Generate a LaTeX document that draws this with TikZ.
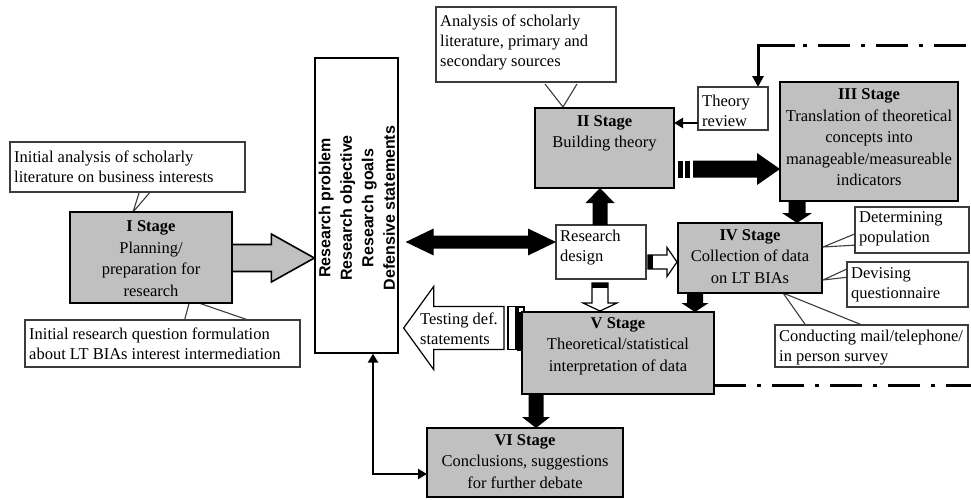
\documentclass[tikz,border=0pt]{standalone}
\usepackage{fontspec}
\setmainfont{Liberation Serif}
\newfontfamily\headsans{Liberation Sans}
\usetikzlibrary{calc,arrows.meta}

\definecolor{stagegray}{RGB}{192,192,192}
\definecolor{noteline}{RGB}{60,60,60}

\tikzset{
  stagebox/.style={draw=black, line width=2.4pt, fill=stagegray, inner sep=0pt, outer sep=0pt},
  stagetext/.style={align=center, inner sep=0pt, font=\fontsize{16.5}{21.5}\selectfont},
  notebox/.style={draw=noteline, line width=1.1pt, fill=white, inner sep=0pt, outer sep=0pt},
  notetext/.style={anchor=west, align=left, inner sep=0pt, font=\fontsize{16.5}{20}\selectfont},
  wedge/.style={draw=noteline, line width=1.1pt, fill=white, line join=miter},
  solidarrow/.style={fill=black},
  hollowarrow/.style={draw=black, line width=1.2pt, fill=white, line join=miter},
  grayarrow/.style={draw=black, line width=1.6pt, fill=stagegray, line join=miter},
  linkarrow/.style={draw=black, line width=2.4pt, line cap=butt},
  dashdot/.style={draw=black, line width=3pt, line cap=butt,
    dash pattern=on 32pt off 11pt on 4pt off 11pt},
}

% callout box from corners, text set flush left with a vertical nudge
\newcommand\mkcallout[7]{%
  \pgfmathsetmacro\cow{#4-#2}\pgfmathsetmacro\coh{#5-#3}%
  \pgfmathsetmacro\cox{(#2+#4)/2}\pgfmathsetmacro\coy{(#3+#5)/2}%
  \node[notebox, minimum width=\cow pt, minimum height=\coh pt] (#1) at (\cox,\coy) {};
  \node[notetext] (#1-t) at ($(#1.west)+(4,#6)$) {#7};}

% stage box from corners, centred text with a vertical nudge
\newcommand\mkstage[7]{%
  \pgfmathsetmacro\cow{#4-#2}\pgfmathsetmacro\coh{#5-#3}%
  \pgfmathsetmacro\cox{(#2+#4)/2}\pgfmathsetmacro\coy{(#3+#5)/2}%
  \node[stagebox, minimum width=\cow pt, minimum height=\coh pt] (#1) at (\cox,\coy) {};
  \node[stagetext] (#1-t) at ($(#1)+(0,#6)$) {#7};}

% horizontal block arrow: style, tail, tip, shaft half width, head half width, head length
\newcommand\hblock[6]{%
  \path[#1] ($(#2)+(0,#4)$) -- ($(#3)+({-(#6)},#4)$) -- ($(#3)+({-(#6)},#5)$) -- (#3)
    -- ($(#3)+({-(#6)},{-(#5)})$) -- ($(#3)+({-(#6)},{-(#4)})$) -- ($(#2)+(0,{-(#4)})$) -- cycle;}

% vertical block arrow: style, tail, tip, shaft half width, head half width, head length
\newcommand\vblock[6]{%
  \path[#1] ($(#2)+(#4,0)$) -- ($(#3)+(#4,{-(#6)})$) -- ($(#3)+(#5,{-(#6)})$) -- (#3)
    -- ($(#3)+({-(#5)},{-(#6)})$) -- ($(#3)+({-(#4)},{-(#6)})$) -- ($(#2)+({-(#4)},0)$) -- cycle;}

\begin{document}
\begin{tikzpicture}[x=1pt,y=-1pt]
\useasboundingbox (0,0) rectangle (971,499);

% callout pointers
\draw[wedge] (140,190) -- (133,212) -- (152,190);
\draw[wedge] (184,322) -- (190,300) -- (254,322);
\draw[wedge] (545,84) -- (563,107) -- (577,84);
\draw[wedge] (857,233) -- (823,247) -- (857,245);
\draw[wedge] (849,268) -- (823,280) -- (849,277);
\draw[wedge] (807,327) -- (783,293) -- (867,327);

% callouts
\mkcallout{c1}{10}{142}{245}{192}{0}{Initial analysis of scholarly\\literature on business interests}
\mkcallout{c2}{25}{320}{300}{367}{0}{Initial research question formulation\\about LT BIAs interest intermediation}
\mkcallout{c3}{436}{7}{616}{82}{-2}{Analysis of scholarly\\literature, primary and\\secondary sources}
\mkcallout{tr}{698}{87}{768}{130}{2}{Theory\\review}
\mkcallout{c5}{855}{207}{969}{253}{-1}{Determining\\population}
\mkcallout{c6}{847}{262}{968}{307}{0}{Devising\\questionnaire}
\mkcallout{c7}{775}{325}{968}{367}{2}{Conducting mail/telephone/\\in person survey}
\mkcallout{rd}{556}{225}{646}{279}{-4}{Research\\design}

% research framing box
\node[draw=black, line width=1.3pt, fill=white, inner sep=0pt,
      minimum width=83pt, minimum height=295pt] (rb) at (356.5,205.5) {};
\node[rotate=90, align=center, inner sep=0pt,
      font=\headsans\bfseries\fontsize{16}{21.5}\selectfont] (rb-t) at ($(rb)+(0.5,2.5)$)
      {Research problem\\Research objective\\Research goals\\Defensive statements};

% tail bar of the testing arrow, behind stage V
\draw[hollowarrow] (518,307) rectangle (524,350);

% stages
\mkstage{s1}{70}{212}{232}{303}{1}{\textbf{I Stage}\\Planning/\\preparation for\\research}
\mkstage{s2}{535}{108}{674}{188}{-14.5}{\textbf{II Stage}\\Building theory}
\mkstage{s3}{780}{82}{958}{201}{-4}{\textbf{III Stage}\\Translation of theoretical\\concepts into\\manageable/measureable\\indicators}
\mkstage{s4}{678}{223}{822}{293}{-1.5}{\textbf{IV Stage}\\Collection of data\\on LT BIAs}
\mkstage{s5}{522}{312}{714}{394}{-7}{\textbf{V Stage}\\Theoretical/statistical\\interpretation of data}
\mkstage{s6}{427}{428}{623}{497}{-1}{\textbf{VI Stage}\\Conclusions, suggestions\\for further debate}

% reference lines for arrow positions
\coordinate (y123) at (0,123);
\coordinate (y169) at (0,169);
\coordinate (y242) at (0,242);
\coordinate (y258) at (0,258);
\coordinate (y262) at (0,262);
\coordinate (y328) at (0,328);
\coordinate (y385) at (0,385);
\coordinate (y474) at (0,474);
\coordinate (x373) at (373,0);
\coordinate (x536) at (536,0);
\coordinate (x600) at (600,0);
\coordinate (x695) at (695,0);
\coordinate (x758) at (758,0);
\coordinate (x797) at (797,0);

% I -> research framing
\coordinate (a1s) at (s1.east |- y258);
\coordinate (a1e) at (rb.west |- y258);
\hblock{grayarrow}{a1s}{a1e}{13.5}{24}{43}

% research framing <-> research design
\coordinate (a2s) at ($(rb.east |- y242)+(7,0)$);
\coordinate (a2e) at (rd.west |- y242);
\coordinate (a2m) at ($(a2s)!0.5!(a2e)$);
\hblock{solidarrow}{a2m}{a2e}{6.5}{13.5}{28}
\hblock{solidarrow}{a2m}{a2s}{6.5}{13.5}{-28}

% research design -> II
\coordinate (a3s) at (rd.north -| x600);
\coordinate (a3e) at (s2.south -| x600);
\vblock{solidarrow}{a3s}{a3e}{7.5}{14.5}{-15}

% theory review -> II
\draw[linkarrow, line width=2.8pt, -{Triangle[length=9pt,width=10pt]}] (tr.west |- y123) -- (s2.east |- y123);

% II -> III (striped)
\coordinate (a5b) at (s2.east |- y169);
\coordinate (a5s) at ($(a5b)+(19,0)$);
\coordinate (a5e) at (s3.west |- y169);
\fill ($(a5b)+(4,-8.5)$) rectangle +(4.5,17);
\fill ($(a5b)+(11,-8.5)$) rectangle +(5,17);
\hblock{solidarrow}{a5s}{a5e}{8.5}{16}{23}

% III -> IV
\coordinate (a6s) at (s3.south -| x797);
\coordinate (a6e) at (s4.north -| x797);
\vblock{solidarrow}{a6s}{a6e}{8.5}{15}{10}

% research design -> IV (hollow, striped)
\coordinate (a7s) at ($(rd.east |- y262)+(2,0)$);
\coordinate (a7e) at ($(s4.west |- y262)+(-1,0)$);
\hblock{hollowarrow}{a7s}{a7e}{7}{14.5}{10}
\fill ($(a7s)+(0,-7)$) rectangle +(5,14);

% research design -> V (hollow, striped)
\coordinate (a8s) at ($(rd.south -| x600)+(0,4)$);
\coordinate (a8e) at ($(s5.north -| x600)+(0,-1)$);
\vblock{hollowarrow}{a8s}{a8e}{8}{17}{8}
\fill ($(a8s)+(-8,0)$) rectangle +(16,5);

% IV -> V
\coordinate (a9s) at (s4.south -| x695);
\coordinate (a9e) at (s5.north -| x695);
\vblock{solidarrow}{a9s}{a9e}{8}{13.5}{9}

% V -> research framing: testing defensive statements
\coordinate (a10s) at ($(s5.west |- y328)+(-18,0)$);
\coordinate (a10e) at ($(rb.east |- y328)+(5,0)$);
\hblock{hollowarrow}{a10s}{a10e}{21.5}{41.5}{-30}
\draw[hollowarrow] ($(a10s)+(4,-21.5)$) rectangle +(8,43);
\fill (518,312) rectangle (522,350);
\node[notetext] (tt) at (420,329) {Testing def.\\statements};

% V -> VI
\coordinate (a11s) at (s5.south -| x536);
\coordinate (a11e) at (s6.north -| x536);
\vblock{solidarrow}{a11s}{a11e}{7.5}{14}{11}

% research framing <-> VI
\draw[linkarrow, line join=miter, {Triangle[length=9pt,width=10pt]}-{Triangle[length=9pt,width=10pt]}]
  (rb.south -| x373) |- (s6.west |- y474);

% feedback lines
\coordinate (dd1) at (795,45);
\coordinate (ddEnd) at (971,45);
\draw[linkarrow, line width=3pt, line join=miter, -{Triangle[length=11pt,width=11pt]}]
  (dd1) -| (tr.north -| x758);
\draw[dashdot, dash phase=35pt] (dd1) -- (ddEnd);
\coordinate (bbEnd) at (971,385);
\draw[dashdot] (s5.east |- y385) -- (bbEnd);

\end{tikzpicture}
\end{document}
